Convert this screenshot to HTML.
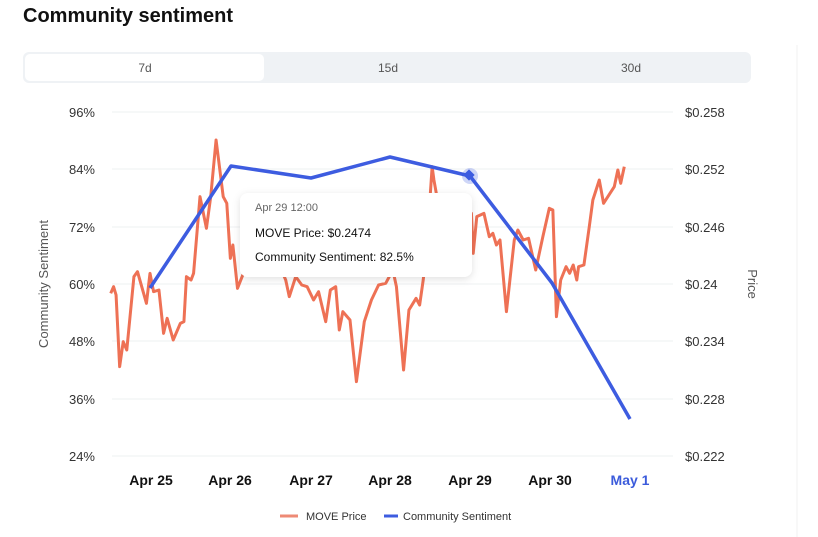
<!DOCTYPE html>
<html><head><meta charset="utf-8"><style>
body{margin:0;width:818px;height:537px;background:#fff;overflow:hidden;font-family:"Liberation Sans",sans-serif;}
</style></head><body>
<svg width="818" height="537" viewBox="0 0 818 537" xmlns="http://www.w3.org/2000/svg" style="position:absolute;left:0;top:0">
<defs><filter id="sh" x="-20%" y="-20%" width="140%" height="150%"><feDropShadow dx="0" dy="2" stdDeviation="4" flood-color="#000" flood-opacity="0.12"/></filter></defs>
<text x="23" y="22" font-size="20" font-weight="bold" fill="#111">Community sentiment</text>
<rect x="23" y="52" width="728" height="31" rx="6" fill="#eff2f5"/>
<rect x="25" y="54" width="239" height="27" rx="5" fill="#fff"/>
<text x="145" y="72" font-size="12" fill="#555" text-anchor="middle">7d</text>
<text x="388" y="72" font-size="12" fill="#555" text-anchor="middle">15d</text>
<text x="631" y="72" font-size="12" fill="#555" text-anchor="middle">30d</text>
<line x1="797" y1="45" x2="797" y2="537" stroke="#f0f0f0"/>
<g stroke="#eef0f2" stroke-width="1">
<line x1="112" y1="112" x2="673" y2="112"/><line x1="112" y1="169" x2="673" y2="169"/><line x1="112" y1="227" x2="673" y2="227"/><line x1="112" y1="284" x2="673" y2="284"/><line x1="112" y1="341" x2="673" y2="341"/><line x1="112" y1="399" x2="673" y2="399"/><line x1="112" y1="456" x2="673" y2="456"/>
</g>
<g font-size="13" fill="#333" text-anchor="end">
<text x="95" y="117">96%</text><text x="95" y="174">84%</text><text x="95" y="232">72%</text><text x="95" y="289">60%</text><text x="95" y="346">48%</text><text x="95" y="404">36%</text><text x="95" y="461">24%</text>
</g>
<g font-size="13" fill="#333">
<text x="685" y="117">$0.258</text><text x="685" y="174">$0.252</text><text x="685" y="232">$0.246</text><text x="685" y="289">$0.24</text><text x="685" y="346">$0.234</text><text x="685" y="404">$0.228</text><text x="685" y="461">$0.222</text>
</g>
<text transform="translate(48,284) rotate(-90)" font-size="13" fill="#555" text-anchor="middle">Community Sentiment</text>
<text transform="translate(748,284) rotate(90)" font-size="13" fill="#555" text-anchor="middle">Price</text>
<g font-size="14" font-weight="bold" fill="#111" text-anchor="middle">
<text x="151" y="485">Apr 25</text><text x="230" y="485">Apr 26</text><text x="311" y="485">Apr 27</text><text x="390" y="485">Apr 28</text><text x="470" y="485">Apr 29</text><text x="550" y="485">Apr 30</text><text x="630" y="485" fill="#3b5bdb">May 1</text>
</g>
<g transform="translate(100,130) scale(0.35714,0.33333)">
<polyline fill="none" stroke="#ee7155" stroke-width="3" vector-effect="non-scaling-stroke" stroke-linejoin="round" points="30,490 38,470 45,495 55,710 65,635 75,660 95,440 105,425 130,520 140,430 150,485 165,480 178,610 188,565 205,630 225,580 235,575 242,440 255,450 262,430 280,200 298,295 310,200 325,30 345,200 355,220 365,385 372,345 385,475 420,380 460,330 500,400 520,450 530,500 548,440 565,465 580,470 598,510 612,485 632,575 645,480 660,470 670,600 680,545 700,570 718,755 740,575 760,510 780,465 800,460 820,420 830,470 850,720 865,540 885,505 895,525 905,450 915,350 930,110 935,150 960,300 1000,260 1040,250 1045,370 1055,260 1075,250 1090,320 1100,310 1110,345 1120,330 1138,545 1160,330 1170,300 1185,330 1200,325 1220,420 1240,320 1258,235 1268,240 1278,560 1290,450 1305,410 1315,430 1325,405 1335,450 1340,410 1355,405 1370,290 1380,210 1398,150 1410,220 1440,170 1450,120 1458,160 1468,110"/>
</g>
<polyline fill="none" stroke="#3d5ce0" stroke-width="3.5" stroke-linejoin="round" points="150,288 231,166 311,178 390,157 470,176 552,283 630,419"/>
<circle cx="470" cy="176" r="8" fill="#3d5ce0" opacity="0.25"/>
<rect x="465" y="171" width="8" height="8" fill="#3d5ce0" transform="rotate(45 469 175)"/>
<rect x="240" y="193" width="232" height="84" rx="8" fill="#fff" filter="url(#sh)"/>
<text x="255" y="211" font-size="11" fill="#666">Apr 29 12:00</text>
<text x="255" y="237" font-size="12" fill="#111">MOVE Price: $0.2474</text>
<text x="255" y="261" font-size="12" fill="#111">Community Sentiment: 82.5%</text>
<line x1="280" y1="516" x2="298" y2="516" stroke="#ee8a75" stroke-width="3"/>
<text x="306" y="520" font-size="11" fill="#333">MOVE Price</text>
<line x1="384" y1="516" x2="398" y2="516" stroke="#3d5ce0" stroke-width="3"/>
<text x="403" y="520" font-size="11" fill="#333">Community Sentiment</text>
</svg>
</body></html>
